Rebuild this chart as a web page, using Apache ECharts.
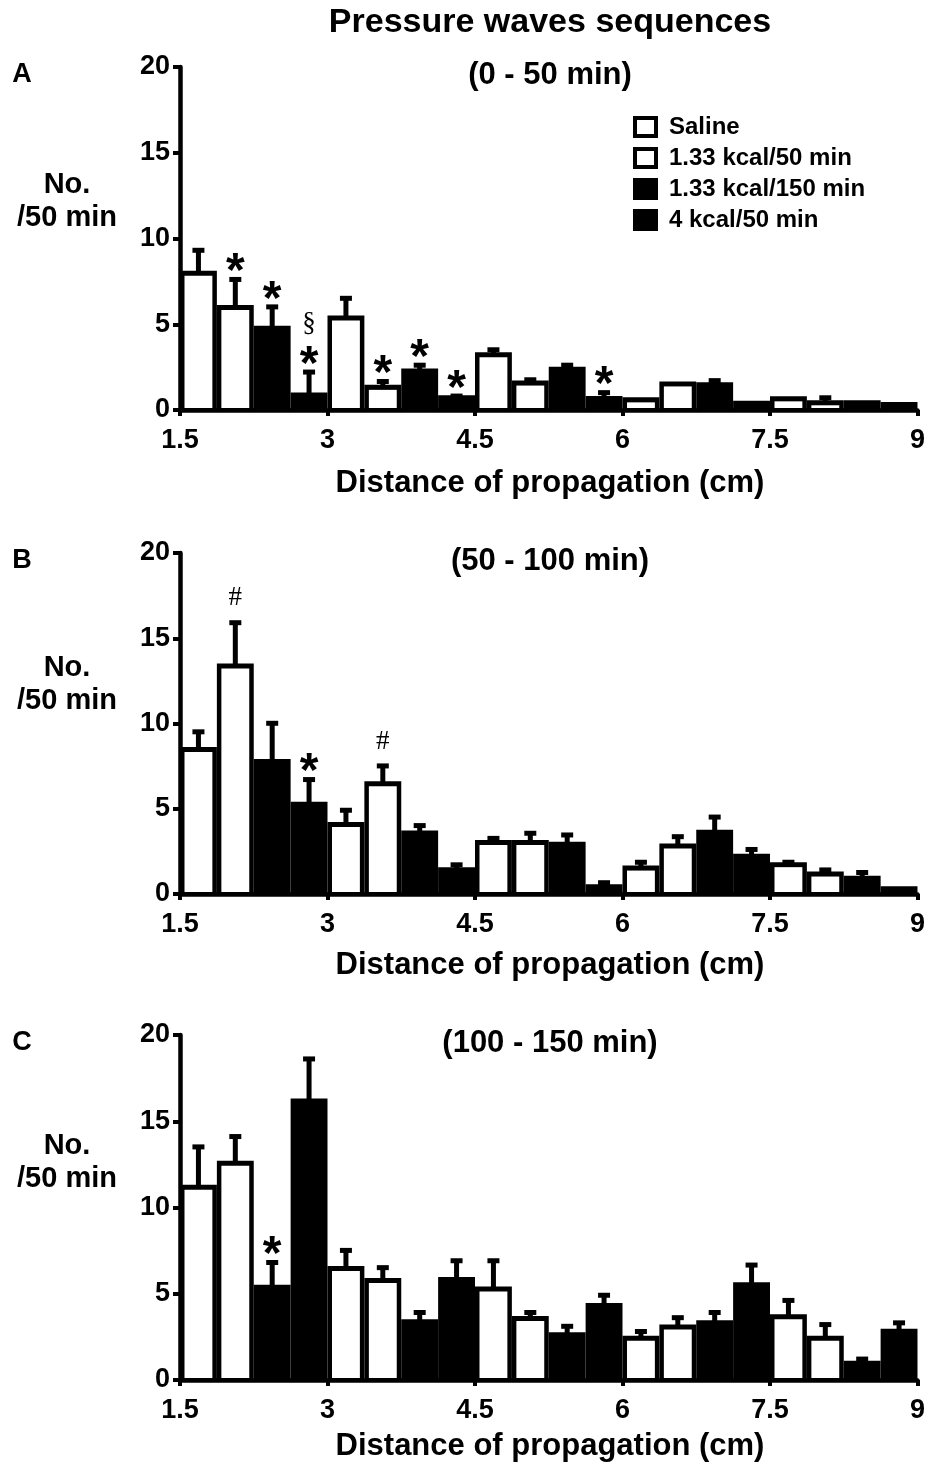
<!DOCTYPE html>
<html>
<head>
<meta charset="utf-8">
<script src="https://cdn.jsdelivr.net/npm/echarts@6/dist/echarts.min.js"></script>
<style>
  html, body { margin: 0; padding: 0; background: #fff; }
  #chart { width: 928px; height: 1467px; }
</style>
</head>
<body>
<div id="chart"></div>
<script>
// distance of propagation bins (cm), 4 groups per bin
var binStarts = [1.5, 3, 4.5, 6, 7.5];
var binWidth = 1.5;
var groupNames = ['Saline', '1.33 kcal/50 min', '1.33 kcal/150 min', '4 kcal/50 min'];

// (0 - 50 min) mean / SEM, one row per group
var meanA = [
  [8.0, 5.4, 3.25, 0.62, 0.68],
  [6.0, 1.35, 1.6, 1.55, 0.45],
  [4.8, 2.3, 2.4, 1.5, 0.45],
  [0.9, 0.75, 0.7, 0.42, 0.35]
];
var semA = [
  [1.4, 1.2, 0.35, 0, 0],
  [1.7, 0.4, 0.25, 0, 0.35],
  [1.3, 0.4, 0.3, 0.3, 0],
  [1.4, 0.15, 0.4, 0, 0]
];
// (50 - 100 min)
var meanB = [
  [8.5, 4.1, 3.05, 1.55, 1.75],
  [13.4, 6.5, 3.05, 2.85, 1.2],
  [7.8, 3.6, 2.95, 3.65, 0.95],
  [5.3, 1.45, 0.45, 2.25, 0.33]
];
var semB = [
  [1.1, 0.9, 0.3, 0.4, 0.2],
  [2.6, 1.1, 0.6, 0.6, 0.3],
  [2.3, 0.5, 0.6, 0.95, 0.4],
  [1.5, 0.35, 0.3, 0.45, 0]
];
// (100 - 150 min)
var meanC = [
  [11.2, 6.5, 5.3, 2.45, 3.7],
  [12.6, 5.8, 3.6, 3.1, 2.45],
  [5.4, 3.4, 2.65, 3.35, 1.0],
  [16.2, 5.85, 4.35, 5.55, 2.85]
];
var semC = [
  [2.4, 1.1, 1.7, 0.45, 1.0],
  [1.6, 0.8, 0.4, 0.6, 0.85],
  [1.5, 0.6, 0.55, 0.65, 0.3],
  [2.5, 1.15, 0.65, 1.2, 0.55]
];
// significance marks: [bin, group, symbol]
var marksA = [[0, 1, '*'], [0, 2, '*'], [0, 3, '*'], [0, 3, '§'], [1, 1, '*'], [1, 2, '*'], [1, 3, '*'], [2, 3, '*']];
var marksB = [[0, 1, '#'], [0, 3, '*'], [1, 1, '#']];
var marksC = [[0, 2, '*']];

var panels = [
  { letter: 'A', sub: '(0 - 50 min)', mean: meanA, sem: semA, marks: marksA, top: 67, height: 343, nameY: 185, xNameY: 483 },
  { letter: 'B', sub: '(50 - 100 min)', mean: meanB, sem: semB, marks: marksB, top: 553, height: 341, nameY: 668, xNameY: 965 },
  { letter: 'C', sub: '(100 - 150 min)', mean: meanC, sem: semC, marks: marksC, top: 1035, height: 345, nameY: 1146, xNameY: 1446 }
];
var groupFilled = [false, false, true, true];
var FONT = 'Liberation Sans, Arial, Helvetica, sans-serif';

var chart = echarts.init(document.getElementById('chart'));

function renderBar(params, api) {
  var x0 = api.value(0), x1 = api.value(1), v = api.value(2), e = api.value(3), filled = api.value(4);
  var pTop = api.coord([x0, v]);
  var pEnd = api.coord([x1, 0]);
  var left = pTop[0], right = pEnd[0], top = pTop[1], bottom = pEnd[1];
  var children = [{
    type: 'rect',
    shape: { x: left, y: top - 2, width: right - left, height: bottom - top + 2 },
    style: { fill: '#000' }
  }];
  if (!filled) {
    children.push({
      type: 'rect',
      shape: { x: left + 4.5, y: top + 3, width: right - left - 9, height: Math.max(0, bottom - top - 5) },
      style: { fill: '#fff' }
    });
  }
  if (e > 0) {
    var pErr = api.coord([(x0 + x1) / 2, v + e]);
    children.push({
      type: 'rect',
      shape: { x: pErr[0] - 2.5, y: pErr[1], width: 5, height: top - pErr[1] },
      style: { fill: '#000' }
    });
    children.push({
      type: 'rect',
      shape: { x: pErr[0] - 6, y: pErr[1] - 1, width: 12, height: 5 },
      style: { fill: '#000' }
    });
  }
  return { type: 'group', children: children };
}

function renderMark(params, api) {
  var p = api.coord([api.value(0), api.value(1)]);
  var sym = api.value(2);
  var level = api.value(3);
  var y = p[1] - 15 - level * 32;
  var font;
  if (sym === '*') {
    font = 'bold 48px ' + FONT;
    y = y + 10;
  } else {
    font = '27px Liberation Serif, Times New Roman, serif';
    if (sym === '#') y = p[1] - 23;
  }
  return {
    type: 'text',
    style: { text: sym, x: p[0], y: y, font: font, fill: '#000', align: 'center', verticalAlign: 'middle' }
  };
}

var grids = [], xAxes = [], yAxes = [], series = [], graphics = [];

graphics.push({
  type: 'text', x: 550, y: 23,
  style: { text: 'Pressure waves sequences', font: 'bold 34px ' + FONT, fill: '#000', align: 'center', verticalAlign: 'middle' }
});

panels.forEach(function (pn, pi) {
  grids.push({ left: 180, width: 738, top: pn.top, height: pn.height });
  xAxes.push({
    type: 'value', gridIndex: pi, min: 1.5, max: 9, interval: 1.5,
    axisLine: { show: true, lineStyle: { color: '#000', width: 4.5 } },
    axisTick: { show: true, length: 6, lineStyle: { color: '#000', width: 4 } },
    splitLine: { show: false },
    axisLabel: { color: '#000', fontSize: 27, fontWeight: 'bold', fontFamily: FONT, margin: 17 }
  });
  yAxes.push({
    type: 'value', gridIndex: pi, min: 0, max: 20, interval: 5,
    axisLine: { show: true, lineStyle: { color: '#000', width: 4.5 } },
    axisTick: { show: true, length: 7, lineStyle: { color: '#000', width: 4 } },
    splitLine: { show: false },
    axisLabel: { color: '#000', fontSize: 27, fontWeight: 'bold', fontFamily: FONT, margin: 10 }
  });

  var w = binWidth / groupNames.length;
  groupNames.forEach(function (name, g) {
    series.push({
      name: name,
      type: 'custom',
      xAxisIndex: pi, yAxisIndex: pi,
      renderItem: renderBar,
      itemStyle: { color: groupFilled[g] ? '#000' : '#fff' },
      data: binStarts.map(function (b, i) {
        return [b + g * w, b + (g + 1) * w, pn.mean[g][i], pn.sem[g][i], groupFilled[g] ? 1 : 0];
      }),
      z: 3
    });
  });

  var seen = {};
  series.push({
    type: 'custom',
    xAxisIndex: pi, yAxisIndex: pi,
    renderItem: renderMark,
    data: pn.marks.map(function (m) {
      var key = m[0] + '_' + m[1];
      var lvl = seen[key] || 0;
      seen[key] = lvl + 1;
      var b = binStarts[m[0]];
      return [b + (m[1] + 0.5) * w, pn.mean[m[1]][m[0]] + pn.sem[m[1]][m[0]], m[2], lvl];
    }),
    z: 4
  });

  graphics.push({
    type: 'text', x: 22, y: pn.top + 8,
    style: { text: pn.letter, font: 'bold 27px ' + FONT, fill: '#000', align: 'center', verticalAlign: 'middle' }
  });
  graphics.push({
    type: 'text', x: 550, y: pn.top + 8,
    style: { text: pn.sub, font: 'bold 31px ' + FONT, fill: '#000', align: 'center', verticalAlign: 'middle' }
  });
  graphics.push({
    type: 'text', x: 67, y: pn.nameY,
    style: { text: 'No.', font: 'bold 29px ' + FONT, fill: '#000', align: 'center', verticalAlign: 'middle' }
  });
  graphics.push({
    type: 'text', x: 67, y: pn.nameY + 33,
    style: { text: '/50 min', font: 'bold 29px ' + FONT, fill: '#000', align: 'center', verticalAlign: 'middle' }
  });
  graphics.push({
    type: 'text', x: 550, y: pn.xNameY,
    style: { text: 'Distance of propagation (cm)', font: 'bold 31px ' + FONT, fill: '#000', align: 'center', verticalAlign: 'middle' }
  });
});

chart.setOption({
  backgroundColor: '#fff',
  animation: false,
  grid: grids,
  xAxis: xAxes,
  yAxis: yAxes,
  legend: {
    orient: 'vertical',
    left: 628, top: 110,
    itemWidth: 21, itemHeight: 18, itemGap: 7,
    selectedMode: false,
    textStyle: { fontSize: 24, fontWeight: 'bold', fontFamily: FONT, color: '#000', padding: [0, 0, 0, 8] },
    data: groupNames.map(function (n, g) {
      return { name: n, icon: 'rect', itemStyle: { color: groupFilled[g] ? '#000' : '#fff', borderColor: '#000', borderWidth: 4 } };
    })
  },
  graphic: graphics,
  series: series
});
</script>
</body>
</html>
